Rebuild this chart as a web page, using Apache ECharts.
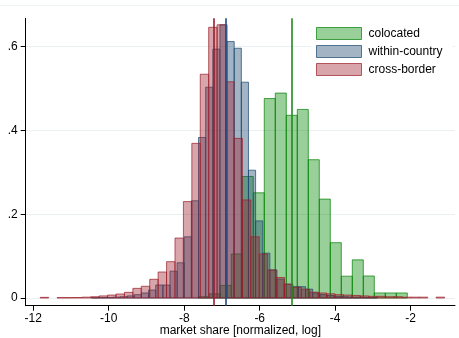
<!DOCTYPE html>
<html>
<head>
<meta charset="utf-8">
<script src="https://cdn.jsdelivr.net/npm/echarts@6/dist/echarts.min.js"></script>
<style>
  html, body { margin: 0; padding: 0; background: #fff; }
  #chart { width: 459px; height: 338px; }
</style>
</head>
<body>
<div id="chart"></div>
<script>
// Histogram densities of log normalized market share, by firm type.
// Each group: first bin's left edge, bin width, and bin heights (density).
const seriesNames = ['colocated', 'within-country', 'cross-border'];

const colocatedStart = -7.628;
const colocatedWidth = 0.2915;
const colocatedDensity = [
  0.003, 0.010, 0.030, 0.105, 0.290, 0.251, 0.476, 0.489, 0.436, 0.450,
  0.330, 0.236, 0.132, 0.052, 0.091, 0.0525, 0.012, 0.012, 0.012
];

const withinStart = -10.456;
const withinWidth = 0.189;
const withinDensity = [
  0.0005, 0.001, 0.001, 0.002, 0.003, 0.005, 0.008, 0.012, 0.019, 0.031,
  0.031, 0.064, 0.084, 0.146, 0.232, 0.383, 0.503, 0.594, 0.652, 0.612,
  0.596, 0.515, 0.305, 0.184, 0.107, 0.067, 0.045, 0.033, 0.027, 0.027,
  0.021, 0.012, 0.008, 0.006, 0.004, 0.003, 0.002, 0.002, 0.001, 0.001
];

const crossStart = -11.816;
const crossWidth = 0.2232;
const crossDensity = [
  0.0015, 0, 0.001, 0.001, 0.0012, 0.002, 0.003, 0.005, 0.007, 0.0095,
  0.0135, 0.023, 0.028, 0.0446, 0.062, 0.0867, 0.143, 0.230, 0.369, 0.534,
  0.646, 0.652, 0.516, 0.381, 0.234, 0.146, 0.105, 0.067, 0.049, 0.033,
  0.0255, 0.021, 0.014, 0.012, 0.010, 0.008, 0.007, 0.006, 0.005, 0.004,
  0.004, 0.003, 0.003, 0.002, 0.002, 0.002, 0, 0.002
];

// Group means (vertical reference lines)
const groupMeans = [-5.153, -6.894, -7.225];

// Axis ticks
const xTicks = [-12, -10, -8, -6, -4, -2];
const yTicks = [0, 0.2, 0.4, 0.6];
const yTickLabels = ['0', '.2', '.4', '.6'];

const fills   = ['rgba(0,135,0,0.4)',  'rgba(26,71,111,0.4)',  'rgba(155,30,42,0.4)'];
const strokes = ['rgba(0,128,0,0.7)',  'rgba(26,71,111,0.7)',  'rgba(155,30,42,0.7)'];
const meanColors = ['rgb(30,140,30)', 'rgb(30,75,135)', 'rgb(150,30,42)'];

function bins(start, width, heights) {
  return heights.map((h, i) => [start + i * width, start + (i + 1) * width, h]);
}

function barRenderer(fill, stroke) {
  return function (params, api) {
    const x0 = api.value(0), x1 = api.value(1), h = api.value(2);
    if (!(h > 0)) return;
    const tl = api.coord([x0, h]);
    const br = api.coord([x1, 0]);
    return {
      type: 'rect',
      shape: { x: tl[0], y: tl[1], width: br[0] - tl[0], height: br[1] - tl[1] },
      style: { fill: fill, stroke: stroke, lineWidth: 1 }
    };
  };
}

const groups = [
  bins(colocatedStart, colocatedWidth, colocatedDensity),
  bins(withinStart, withinWidth, withinDensity),
  bins(crossStart, crossWidth, crossDensity)
];

const font = "'Liberation Sans', Arial, Helvetica, sans-serif";

const series = groups.map((data, i) => ({
  name: seriesNames[i],
  type: 'custom',
  renderItem: barRenderer(fills[i], strokes[i]),
  dimensions: ['x0', 'x1', 'h'],
  encode: { x: [0, 1], y: 2 },
  itemStyle: { color: fills[i], borderColor: strokes[i] },
  clip: true,
  z: 2 + i,
  data: data
}));

// Mean lines drawn over all bars
series.push({
  type: 'custom',
  renderItem: function () {},
  data: [],
  z: 10,
  markLine: {
    silent: true,
    symbol: ['none', 'none'],
    label: { show: false },
    animation: false,
    data: groupMeans.map((m, i) => ({
      xAxis: m,
      lineStyle: { color: meanColors[i], width: 1.6, type: 'solid' }
    }))
  }
});

const chart = echarts.init(document.getElementById('chart'), null, { renderer: 'canvas' });
chart.setOption({
  animation: false,
  backgroundColor: '#fff',
  textStyle: { fontFamily: font },
  grid: { left: 25.7, right: 4, top: 18.3, bottom: 32.3, containLabel: false, outerBoundsMode: 'none' },
  graphic: [{
    type: 'line',
    shape: { x1: 0, y1: 5.5, x2: 459, y2: 5.5 },
    style: { stroke: '#eef4f4', lineWidth: 1 },
    silent: true
  }],
  legend: {
    orient: 'vertical',
    left: 311,
    top: 23,
    padding: [4, 10, 4, 5],
    backgroundColor: '#fff',
    itemGap: 5,
    itemWidth: 45,
    itemHeight: 12,
    icon: 'rect',
    textStyle: { fontSize: 12, color: '#000', fontFamily: font, padding: [0, 0, 0, 2] },
    data: seriesNames.map((n, i) => ({
      name: n,
      itemStyle: { color: fills[i], borderColor: strokes[i], borderWidth: 1 }
    }))
  },
  xAxis: {
    type: 'value',
    min: -12.2,
    max: -0.826,
    name: 'market share [normalized, log]',
    nameLocation: 'middle',
    nameGap: 19,
    nameMoveOverlap: false,
    nameTextStyle: { fontSize: 12, color: '#000', fontFamily: font },
    axisLine: { onZero: false, lineStyle: { color: '#000', width: 1 } },
    axisTick: { show: true, length: 5, customValues: xTicks, lineStyle: { color: '#000' } },
    axisLabel: { customValues: xTicks, fontSize: 12, color: '#000', margin: 7, fontFamily: font,
                 formatter: v => String(v) },
    splitLine: { show: false }
  },
  yAxis: {
    type: 'value',
    min: -0.0184,
    max: 0.6675,
    axisLine: { show: true, lineStyle: { color: '#000', width: 1 } },
    axisTick: { show: true, length: 5, customValues: yTicks, lineStyle: { color: '#000' } },
    axisLabel: { customValues: yTicks, fontSize: 12, color: '#000', margin: 8, fontFamily: font,
                 formatter: v => yTickLabels[yTicks.findIndex(t => Math.abs(t - v) < 1e-9)] },
    splitLine: { show: true, lineStyle: { color: '#e8f0f1', width: 1 } }
  },
  series: series
});
</script>
</body>
</html>
